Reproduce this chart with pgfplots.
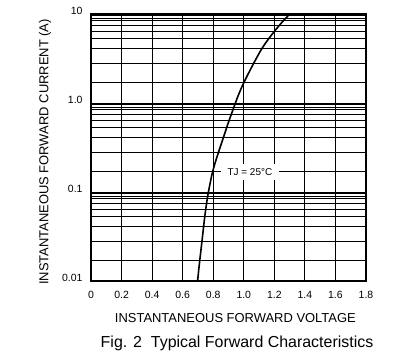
\documentclass[border=0pt]{standalone}
\usepackage{fontspec}
\setmainfont{Liberation Sans}
\usepackage{pgfplots}
\pgfplotsset{compat=1.18}
\begin{document}
\begin{tikzpicture}
\path[use as bounding box] (0,0) rectangle (413bp,358bp);
\begin{axis}[
  at={(91bp,77bp)}, anchor=south west,
  scale only axis, width=275bp, height=267bp,
  xmin=0, xmax=1.8, ymode=log, ymin=0.01, ymax=10,
  xtick={0,0.2,0.4,0.6,0.8,1.0,1.2,1.4,1.6,1.8},
  xticklabels={0,0.2,0.4,0.6,0.8,1.0,1.2,1.4,1.6,1.8},
  ytick={0.01,0.1,1,10},
  yticklabels={0.01,0.1,1.0,10},
  minor ytick={0.01718,0.02754,0.04074,0.05248,0.06310,0.07413,0.08414,0.09016,0.09550,
               0.1718,0.2754,0.4074,0.5248,0.6310,0.7413,0.8414,0.9016,0.9550,
               1.718,2.754,4.074,5.248,6.310,7.413,8.414,9.016,9.550},
  grid=both,
  major grid style={black, line width=0.9bp},
  minor grid style={black, line width=0.9bp},
  axis line style={black, line width=1.1bp},
  major tick length=0pt, minor tick length=0pt,
  /pgf/number format/assume math mode=true,
  tick label style={font=\fontsize{10.5}{12}\selectfont},
  xticklabel style={anchor=center, yshift=-14bp},
  yticklabel style={anchor=east, xshift=-5bp, yshift=3bp},
  xlabel={INSTANTANEOUS FORWARD VOLTAGE},
  ylabel={INSTANTANEOUS FORWARD CURRENT (A)},
  label style={font=\fontsize{13}{15}\selectfont},
  xlabel style={at={(axis description cs:0.525,-0.1386)}, anchor=center},
  ylabel style={at={(axis description cs:-0.167,0.483)}, anchor=center},
  clip=true,
]
\addplot[black, line width=1.6bp, smooth] coordinates {
  (0.698,0.0100) (0.705,0.0133) (0.716,0.0196) (0.731,0.0329) (0.746,0.0552)
  (0.765,0.0925) (0.791,0.155) (0.814,0.217) (0.835,0.281) (0.872,0.436)
  (0.905,0.644) (0.943,0.975) (0.965,1.230) (1.000,1.690) (1.059,2.673)
  (1.113,3.946) (1.155,5.05) (1.200,6.37) (1.250,8.07) (1.301,10.0)
};
\node[fill=white, inner xsep=7bp, inner ysep=4.5bp, font=\fontsize{10}{12}\selectfont]
  at (axis cs:1.04,0.168) {TJ = 25\textdegree C};
\end{axis}
\node[font=\fontsize{16}{18}\selectfont] at (237bp,15bp) {Fig. 2\ \ Typical Forward Characteristics};
\end{tikzpicture}
\end{document}
